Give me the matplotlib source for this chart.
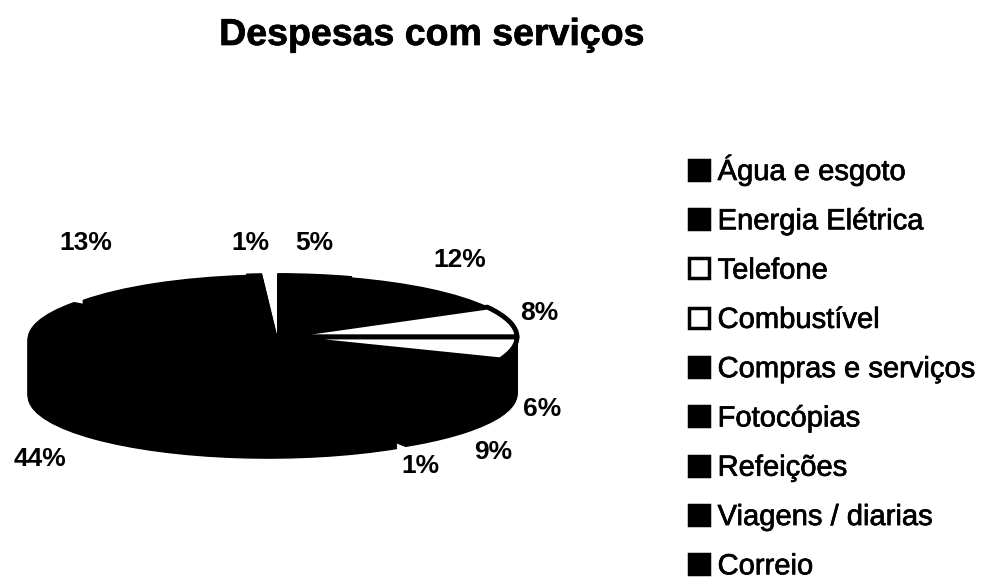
import numpy as np
import matplotlib as mpl
mpl.use('Agg')
import matplotlib.pyplot as plt
import matplotlib.patheffects as pe

plt.rcParams['font.family'] = ['Liberation Sans', 'DejaVu Sans']

title = 'Despesas com serviços'
categories = ['Água e esgoto', 'Energia Elétrica', 'Telefone', 'Combustível',
              'Compras e serviços', 'Fotocópias', 'Refeições',
              'Viagens / diarias', 'Correio']
values = [5, 12, 8, 6, 9, 1, 44, 13, 1]   # percent, sums to 99 in the source
colors = ['black', 'black', 'white', 'white', 'black', 'black', 'black',
          'black', 'black']
explode = [0.02, 0.0, 0.0, 0.0, 0.0, 0.0, 0.05, 0.0, 0.02]

# label placement in pixels (from top-left of the 992x580 image)
label_px = [(314, 243), (460, 260), (539, 313), (542, 409), (493, 452),
            (420, 466), (40, 459), (86, 243), (250, 243)]

W, H, DPI = 992, 580, 100
CX, CY = 277, 337        # centre of the top face, px
RX, RY = 240, 62         # half axes of the top face, px
DEPTH = 57               # thickness of the pie, px


def to_data(px, py):
    return (px - CX) / RX, (CY - py) / RY


def main():
    fig = plt.figure(figsize=(W / DPI, H / DPI), dpi=DPI)
    ax = fig.add_axes([0, 0, 1, 1])
    ax.set_axis_off()

    fracs = [v / 100. for v in values]
    thick = [pe.withStroke(linewidth=0.5, foreground='black')]

    # side of the 3d pie: stacked copies pushed down
    depth = DEPTH / RY
    for d in np.linspace(depth, 0.02, 40):
        ax.pie(fracs, startangle=90, counterclock=False, normalize=False,
               explode=explode, center=(0, -d), colors=['black'] * len(fracs),
               wedgeprops=dict(edgecolor='black', linewidth=1))

    # top face
    wedges, _ = ax.pie(fracs, startangle=90, counterclock=False,
                       normalize=False, explode=explode, colors=colors,
                       wedgeprops=dict(edgecolor='black', linewidth=1))
    for w, c in zip(wedges, colors):
        if c == 'white':
            w.set_linewidth(3.5)
            w.set_joinstyle('round')

    ax.set_aspect('auto')
    ax.set_xlim(-CX / RX, (W - CX) / RX)
    ax.set_ylim(-(H - CY) / RY, CY / RY)

    for v, (px, py) in zip(values, label_px):
        x, y = to_data(px, py)
        ax.text(x, y, '%d%%' % v, ha='center', va='center', fontsize=19,
                fontweight='bold', color='black')

    fig.text(432 / W, 1 - 35 / H, title, ha='center', va='center',
             fontsize=27, fontweight='bold', path_effects=thick)

    leg = fig.legend(wedges, categories, loc='upper left',
                     bbox_to_anchor=(689 / W, 1 - 154 / H), frameon=False,
                     fontsize=21, handlelength=0.68, handleheight=0.68,
                     handletextpad=0.3, labelspacing=0.73, borderpad=0,
                     borderaxespad=0)
    for h in leg.legend_handles:
        h.set_linewidth(2.5)
    for t in leg.get_texts():
        t.set_path_effects(thick)

    fig.savefig('out.png', dpi=DPI)


if __name__ == '__main__':
    main()
